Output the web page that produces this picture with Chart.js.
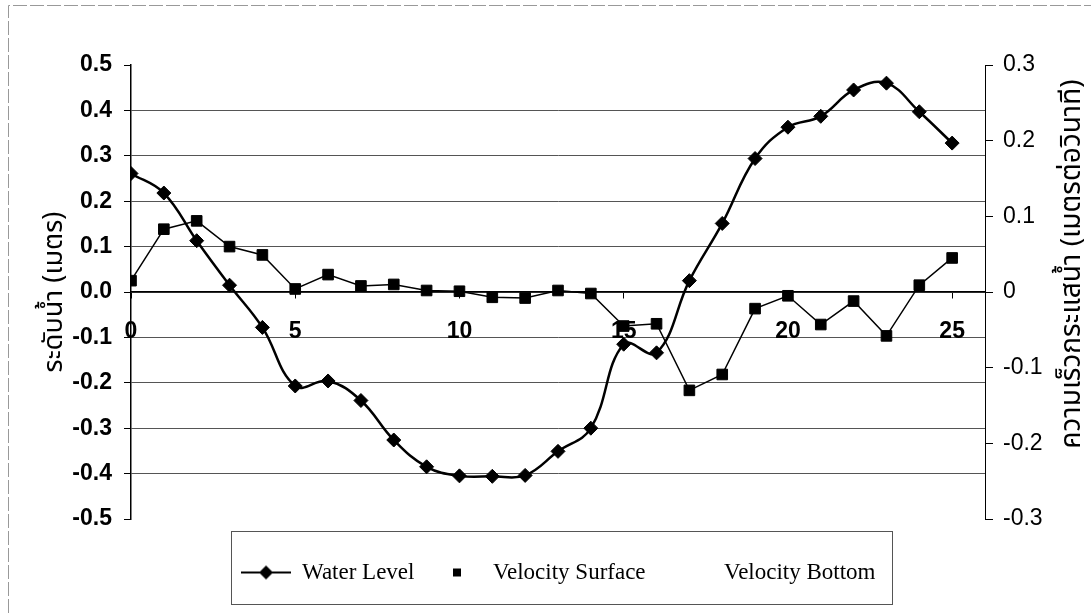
<!DOCTYPE html>
<html lang="th">
<head>
<meta charset="UTF-8">
<title>Water Level / Velocity</title>
<style>
  html, body { margin: 0; padding: 0; background: #fff; }
  #wrap { width: 1091px; height: 613px; }
</style>
</head>
<body>
<div id="wrap"><canvas id="chart" width="1091" height="613"></canvas></div>

<script src="https://cdn.jsdelivr.net/npm/chart.js@4.4.0/dist/chart.umd.min.js"></script>
<script>
// ชั่วโมง (แกน x)
const hours = [0, 1, 2, 3, 4, 5, 6, 7, 8, 9, 10, 11, 12, 13, 14, 15, 16, 17, 18, 19, 20, 21, 22, 23, 24, 25];

// ระดับน้ำ (เมตร) - แกนซ้าย
const waterLevel = [0.261, 0.218, 0.113, 0.015, -0.078, -0.207, -0.196, -0.239, -0.326, -0.385,
                    -0.405, -0.406, -0.404, -0.351, -0.300, -0.115, -0.134, 0.025, 0.151, 0.294,
                    0.363, 0.387, 0.445, 0.460, 0.397, 0.328];

// ความเร็วกระแสน้ำ (เมตรต่อวินาที) - แกนขวา
const velocitySurface = [0.015, 0.083, 0.094, 0.060, 0.049, 0.004, 0.023, 0.008, 0.010, 0.002,
                         0.001, -0.007, -0.008, 0.002, -0.002, -0.045, -0.042, -0.130, -0.109, -0.022,
                         -0.005, -0.043, -0.012, -0.058, 0.009, 0.045];
const velocityBottom = [];

const seriesNames = ['Water Level', 'Velocity Surface', 'Velocity Bottom'];
const hourTicks = [0, 5, 10, 15, 20, 25];
const levelTicks = [-0.5, -0.4, -0.3, -0.2, -0.1, 0, 0.1, 0.2, 0.3, 0.4, 0.5];
const velocityTicks = [-0.3, -0.2, -0.1, 0, 0.1, 0.2, 0.3];

const leftTitle = 'ระดับน้ำ (เมตร)';
const rightTitle = 'ความเร็วกระแสน้ำ (เมตรต่อวินาที)';

const sans = 'Liberation Sans, Arial, sans-serif';
const serif = 'Liberation Serif, Times New Roman, serif';
const thai = 'Noto Sans Thai, Tlwg Typo, Loma, sans-serif';

// icons for the legend
function legendIcon(kind) {
    const c = document.createElement('canvas');
    c.width = 50; c.height = 16;
    const g = c.getContext('2d');
    g.fillStyle = '#000'; g.strokeStyle = '#000';
    if (kind === 'diamond') {
        g.lineWidth = 2;
        g.beginPath(); g.moveTo(0, 8); g.lineTo(50, 8); g.stroke();
        g.beginPath(); g.moveTo(25, 1); g.lineTo(32, 8); g.lineTo(25, 15); g.lineTo(18, 8); g.closePath(); g.fill();
    } else if (kind === 'square') {
        g.fillRect(21, 4, 8, 8);
    }
    return c;
}
const legendIcons = [legendIcon('diamond'), legendIcon('square'), legendIcon('none')];

const toPoints = (ys) => ys.map((y, i) => ({ x: hours[i], y: y }));

// legend frame, right-hand title, page border
const extras = {
    id: 'extras',
    afterLayout(chart) {
        const lg = chart.legend;
        lg.left -= 6; lg.right -= 6;
        lg.top += 24; lg.bottom += 24;
    },
    afterDraw(chart) {
        const ctx = chart.ctx;
        const boxes = chart.legend.legendHitBoxes;
        const first = boxes[0], last = boxes[boxes.length - 1];
        ctx.save();
        ctx.strokeStyle = '#555';
        ctx.lineWidth = 1;
        const x0 = Math.round(first.left - 11) + 0.5;
        const x1 = Math.round(last.left + last.width + 17) + 0.5;
        const y0 = Math.round(first.top - 30) + 0.5;
        ctx.strokeRect(x0, y0, x1 - x0, 73);

        // outer border (left + top)
        ctx.strokeStyle = '#999';
        ctx.setLineDash([14, 3]);
        ctx.beginPath();
        ctx.moveTo(8.5, 613); ctx.lineTo(8.5, 5.5); ctx.lineTo(1091, 5.5);
        ctx.stroke();
        ctx.setLineDash([]);

        // right axis title, reading bottom to top
        const s = chart.scales.y2;
        ctx.translate(s.right - 17, (s.top + s.bottom) / 2 - 28);
        ctx.rotate(-Math.PI / 2);
        ctx.font = '28px ' + thai;
        ctx.fillStyle = '#000';
        ctx.textAlign = 'center';
        ctx.textBaseline = 'middle';
        ctx.fillText(rightTitle, 0, 0);
        ctx.restore();
    }
};

const config = {
    type: 'line',
    data: {
        datasets: [{
            label: seriesNames[0],
            data: toPoints(waterLevel),
            yAxisID: 'y',
            borderColor: '#000',
            backgroundColor: '#000',
            borderWidth: 2.5,
            tension: 0.4,
            pointStyle: 'rectRot',
            pointRadius: 7,
            pointBorderWidth: 1
        }, {
            label: seriesNames[1],
            data: toPoints(velocitySurface),
            yAxisID: 'y2',
            borderColor: '#000',
            backgroundColor: '#000',
            borderWidth: 1.5,
            tension: 0,
            pointStyle: 'rect',
            pointRadius: 7.5,
            pointBorderWidth: 1
        }, {
            label: seriesNames[2],
            data: toPoints(velocityBottom),
            yAxisID: 'y2',
            borderColor: '#000',
            backgroundColor: '#000',
            showLine: false,
            pointRadius: 0
        }]
    },
    options: {
        responsive: false,
        animation: false,
        layout: { padding: { left: 38, right: 0, top: 65, bottom: 43 } },
        plugins: {
            tooltip: { enabled: false },
            legend: {
                position: 'bottom',
                labels: {
                    usePointStyle: true,
                    pointStyleWidth: 49,
                    padding: 18,
                    color: '#000',
                    font: { family: serif, size: 23 },
                    generateLabels(chart) {
                        const items = Chart.defaults.plugins.legend.labels.generateLabels(chart);
                        items.forEach((it, i) => { it.pointStyle = legendIcons[i]; });
                        return items;
                    }
                }
            }
        },
        scales: {
            x: {
                type: 'linear',
                min: 0,
                max: 26,
                position: { y: 0 },
                afterBuildTicks: (scale) => { scale.ticks = hourTicks.map(v => ({ value: v })); },
                ticks: {
                    color: '#000',
                    padding: 20,
                    maxRotation: 0,
                    font: { family: sans, size: 23, weight: 'bold' }
                },
                grid: { drawOnChartArea: false, drawTicks: true, tickLength: 6, tickColor: '#000' },
                border: { display: true, color: '#000', width: 1.5 }
            },
            y: {
                position: 'left',
                min: -0.5,
                max: 0.5,
                afterBuildTicks: (scale) => { scale.ticks = levelTicks.map(v => ({ value: v })); },
                afterFit: (scale) => { scale.width = 93; },
                ticks: {
                    color: '#000',
                    padding: 12,
                    font: { family: sans, size: 23, weight: 'bold' },
                    callback: (v) => v.toFixed(1)
                },
                grid: {
                    color: (c) => (c.tick && Math.abs(c.tick.value) > 0.45) ? 'rgba(0,0,0,0)' : '#555',
                    tickColor: '#000',
                    tickLength: 7,
                    lineWidth: 1
                },
                border: { display: true, color: '#000', width: 1.5 },
                title: {
                    display: true,
                    text: leftTitle,
                    color: '#000',
                    font: { family: thai, size: 27 },
                    padding: { top: 2, bottom: 4 }
                }
            },
            y2: {
                position: 'right',
                min: -0.3,
                max: 0.3,
                afterBuildTicks: (scale) => { scale.ticks = velocityTicks.map(v => ({ value: v })); },
                afterFit: (scale) => { scale.width = 106; },
                ticks: {
                    color: '#000',
                    padding: 10,
                    font: { family: sans, size: 23 },
                    callback: (v) => Math.abs(v) < 1e-9 ? '0' : v.toFixed(1)
                },
                grid: { drawOnChartArea: false, tickLength: 8, tickColor: '#000' },
                border: { display: true, color: '#000', width: 1 }
            }
        }
    },
    plugins: [extras]
};

const ctx = document.getElementById('chart').getContext('2d');
const chart = new Chart(ctx, config);
</script>
</body>
</html>
